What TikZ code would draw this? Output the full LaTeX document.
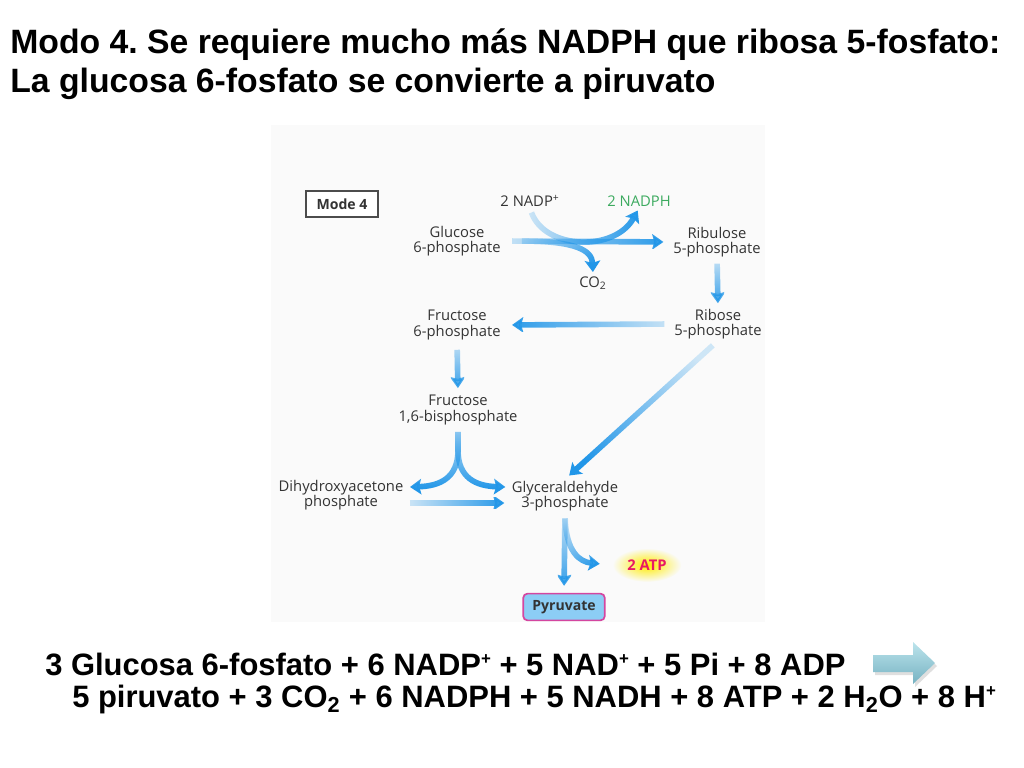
\documentclass[tikz,border=0pt]{standalone}
\usepackage{fontspec}
\setmainfont{Liberation Sans}
\newfontfamily\figfont{Open Sans}
\usetikzlibrary{arrows.meta,%
                fadings,%
                shapes.geometric,%
                calc}
\definecolor{flowblue}{RGB}{33,150,232}
\definecolor{figtext}{RGB}{51,51,51}
\definecolor{figback}{RGB}{250,250,250}
\definecolor{nadphgreen}{RGB}{60,170,95}
\definecolor{atpred}{RGB}{232,25,100}
\definecolor{pyrfill}{RGB}{140,205,245}
\definecolor{pyrline}{RGB}{212,70,160}
\definecolor{blockhi}{RGB}{188,228,236}
\definecolor{blocklo}{RGB}{118,178,194}
\tikzfading[name=flowfade,left color=transparent!80,middle color=transparent!15,right color=transparent!0]
\newcommand{\smallplus}{\raisebox{0.62ex}{\fontsize{12}{12}\selectfont +}}
\frenchspacing

\begin{document}
\begin{tikzpicture}[x=0.025cm,y=-0.025cm]
  \useasboundingbox (0,0) rectangle (1024,768);
  \tikzstyle{slide}=[font=\bfseries\fontsize{24}{28}\selectfont,inner sep=0pt,anchor=base west]
  \tikzstyle{eqn}=[font=\bfseries\fontsize{22}{26}\selectfont,inner sep=0pt,anchor=base west]
  \tikzstyle{metab}=[font=\figfont\fontsize{10.5}{10.8}\selectfont,text=figtext,align=center,inner sep=1pt]
  \tikzstyle{modebox}=[draw=gray!60!black,line width=1.3pt,fill=white,text=figtext,
    font=\figfont\bfseries\fontsize{10}{12}\selectfont,minimum width=51pt,minimum height=18pt]
  \tikzstyle{pyrbox}=[draw=pyrline,line width=1.2pt,fill=pyrfill,rounded corners=3pt,text=figtext,
    font=\figfont\bfseries\fontsize{10}{12}\selectfont,minimum width=58pt,minimum height=19pt]
  \tikzstyle{atpglow}=[ellipse,inner color=yellow!85!orange,outer color=figback,text=atpred,
    font=\figfont\bfseries\fontsize{10.5}{12}\selectfont,minimum width=44pt,minimum height=24pt]
  \tikzstyle{flow}=[draw=flowblue,line width=4pt,path fading=flowfade,
    -{Stealth[length=8pt,width=11pt,inset=1.5pt]}]
  % slide text
  \node[slide] (title1) at (10,54) {Modo 4. Se requiere mucho más NADPH que ribosa 5-fosfato:};
  \node[slide] (title2) at (10,93) {La glucosa 6-fosfato se convierte a piruvato};
  \node[eqn] (eqleft) at (45,675) {3 Glucosa 6-fosfato + 6 NADP\smallplus{} + 5 NAD\smallplus{} + 5 Pi + 8 ADP};
  \node[eqn] (eqright) at (72,707) {5 piruvato + 3 CO\textsubscript{2} + 6 NADPH + 5 NADH + 8 ATP + 2 H\textsubscript{2}O + 8 H\smallplus};
  \fill[gray!25] (875,658) -- (915,658) -- (915,645) -- (937,666) -- (915,687) -- (915,675) -- (875,675) -- cycle;
  \shade[top color=blockhi,bottom color=blocklo] (873,655) -- (913,655) -- (913,642) -- (935,663)
    -- (913,684) -- (913,672) -- (873,672) -- cycle;
  % figure
  \fill[figback] (271,125) rectangle (765,622);
  \node[modebox] (mode) at (342,204) {Mode 4};
  \node[metab] (nadp) at (530,201) {2 NADP\textsuperscript{+}};
  \node[metab,text=nadphgreen] (nadph) at (639,201) {2 NADPH};
  \node[metab] (glc) at (457,241) {Glucose\\6-phosphate};
  \node[metab] (rbl) at (717,242) {Ribulose\\5-phosphate};
  \node[metab] (co2) at (593,283) {CO\textsubscript{2}};
  \node[metab] (f6p) at (457,325) {Fructose\\6-phosphate};
  \node[metab] (r5p) at (718,324) {Ribose\\5-phosphate};
  \node[metab] (fbp) at (458,410) {Fructose\\1,6-bisphosphate};
  \node[metab] (dhap) at (341,495) {Dihydroxyacetone\\phosphate};
  \node[metab] (gap) at (565,496) {Glyceraldehyde\\3-phosphate};
  \node[atpglow] (atp) at (647,565) {2 ATP};
  \node[pyrbox] (pyr) at (564,607) {Pyruvate};
  \draw[flow,shorten <=7pt,shorten >=6pt] (glc.east) -- (rbl.west);
  \draw[flow,shorten <=3pt,shorten >=2pt] (nadp.south) .. controls (545,250) and (615,252) .. (nadph.south);
  \draw[flow,fading angle=-30,shorten <=14pt,shorten >=2pt] (glc.east) .. controls (575,241) and (592,250) .. (co2.north);
  \draw[flow,fading angle=-90,shorten <=3.5pt,shorten >=3pt] (rbl.south) -- (r5p.north);
  \draw[flow,fading angle=180,shorten <=6pt,shorten >=7pt] (r5p.west) -- (f6p.east);
  \draw[flow,fading angle=-90,shorten <=6pt,shorten >=4pt] (f6p.south) -- (fbp.north);
  \draw[flow,fading angle=-139,shorten <=5pt,shorten >=4pt] (r5p.south) -- (gap.north);
  \draw[flow,fading angle=-90,shorten <=4pt] (fbp.south) -- ++(0,24) .. controls (458,478) and (440,486) .. ($(dhap.east)+(5,-8)$);
  \draw[flow,fading angle=-90,shorten <=4pt] (fbp.south) -- ++(0,24) .. controls (458,478) and (476,486) .. ($(gap.west)+(-5,-9)$);
  \draw[flow] ($(dhap.east)+(5,8)$) -- ($(gap.west)+(-6,7)$);
  \draw[flow,fading angle=-90,shorten <=4pt,shorten >=5pt] (gap.south) -- (pyr.north);
  \draw[flow,fading angle=-60,shorten <=4pt,shorten >=9pt] (gap.south) .. controls (566,552) and (580,562) .. (atp.west);
\end{tikzpicture}
\end{document}
